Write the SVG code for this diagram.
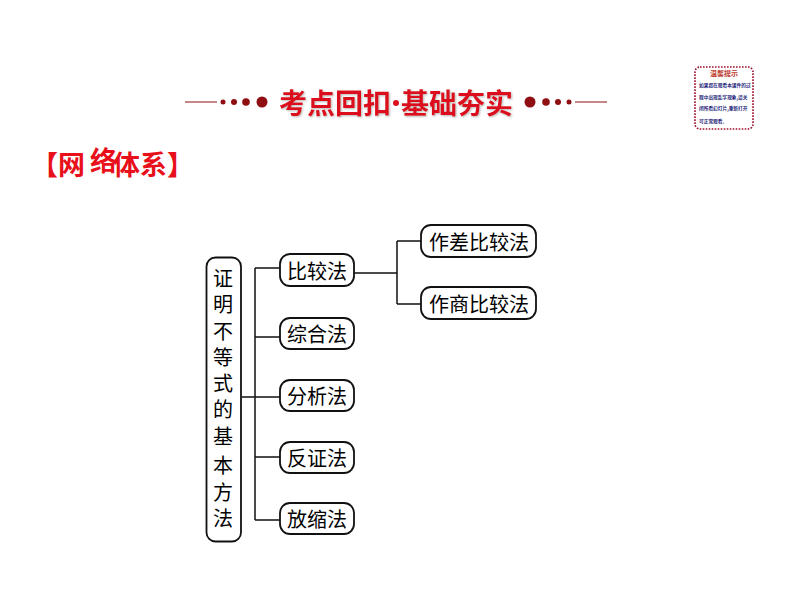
<svg xmlns="http://www.w3.org/2000/svg" width="794" height="596" viewBox="0 0 794 596">
<defs>
<filter id="glow" x="-5%" y="-20%" width="110%" height="140%"><feDropShadow dx="1" dy="1" stdDeviation="1.2" flood-color="#999" flood-opacity="0.7"/></filter>
</defs>
<style>
text{font-family:"Noto Sans CJK SC","Noto Sans",sans-serif}
.box{fill:#fff;stroke:#111;stroke-width:1.8}
.lbl{font-size:20px;font-weight:400;fill:#000;text-anchor:middle;dominant-baseline:central}
.conn{fill:none;stroke:#111;stroke-width:1.5}
.rule{stroke:#8a1010;stroke-width:1;fill:none}
.dot{fill:#8e0e12}
.ban{font-size:28px;font-weight:700;fill:#dc0f1e}
.tip{font-size:4.7px;fill:#1f1f7a;font-weight:700}
.ttl{font-size:27px;fill:#e8101a;font-weight:700}
</style>
<rect width="794" height="596" fill="#fff"/>
<g id="banner">
<path class="rule" d="M185 102H217M575 102H607"/>
<circle class="dot" cx="223" cy="102" r="2.500"/><circle class="dot" cx="234" cy="102" r="3"/><circle class="dot" cx="246" cy="102" r="3.800"/><circle class="dot" cx="262" cy="102" r="5.500"/>
<circle class="dot" cx="530" cy="102" r="5.500"/><circle class="dot" cx="546" cy="102" r="3.800"/><circle class="dot" cx="558" cy="102" r="3"/><circle class="dot" cx="569" cy="102" r="2.500"/>
<text class="ban" x="279" y="114" filter="url(#glow)">考点回扣</text>
<circle cx="396" cy="103" r="3" fill="#dc0f1e"/>
<text class="ban" x="401" y="114" filter="url(#glow)">基础夯实</text>
</g>
<g id="tip">
<rect x="695" y="67" width="58" height="62" rx="5" fill="#fff" stroke="#a01030" stroke-width="1.6" stroke-dasharray="1.6 1.4"/>
<text x="724" y="76" font-size="7" font-weight="700" fill="#c0392b" text-anchor="middle">温馨提示</text>
<text class="tip" x="699" y="87">如果您在观看本课件的过</text>
<text class="tip" x="699" y="99">程中出现乱字现象,请关</text>
<text class="tip" x="699" y="110">闭所看幻灯片,重新打开</text>
<text class="tip" x="699" y="123">可正常观看。</text>
</g>
<g id="title">
<text class="ttl" x="31" y="175">【网</text>
<text class="ttl" x="90" y="171">络</text>
<text class="ttl" x="113" y="175">体系】</text>
</g>
<g id="connectors">
<path class="conn" d="M242 397H255M255 268V520M255 268H280M255 337H280M255 397H280M255 457H280M255 520H280"/>
<path class="conn" d="M354 273H397M397 241V304M397 241H421M397 304H421"/>
</g>
<g id="n-root"><rect class="box" x="206.500" y="257.500" width="34.500" height="284" rx="9"/>
<text class="lbl" x="223 223 223 223 223 223 223 223 223 223" y="277 303 330 356 382 408 435 464 491 517">证明不等式的基本方法</text></g>
<g id="n1"><rect class="box" x="280" y="254" width="74" height="32" rx="10"/><text class="lbl" x="317" y="270">比较法</text></g>
<g id="n2"><rect class="box" x="280" y="318" width="74" height="31" rx="10"/><text class="lbl" x="317" y="333">综合法</text></g>
<g id="n3"><rect class="box" x="280" y="380" width="74" height="31" rx="10"/><text class="lbl" x="317" y="395">分析法</text></g>
<g id="n4"><rect class="box" x="280" y="442" width="74" height="31" rx="10"/><text class="lbl" x="317" y="457">反证法</text></g>
<g id="n5"><rect class="box" x="280" y="503" width="74" height="31" rx="10"/><text class="lbl" x="317" y="518">放缩法</text></g>
<g id="n6"><rect class="box" x="421" y="225" width="115" height="32" rx="10"/><text class="lbl" x="479" y="241">作差比较法</text></g>
<g id="n7"><rect class="box" x="421" y="287" width="115" height="32" rx="10"/><text class="lbl" x="479" y="303">作商比较法</text></g>
</svg>
